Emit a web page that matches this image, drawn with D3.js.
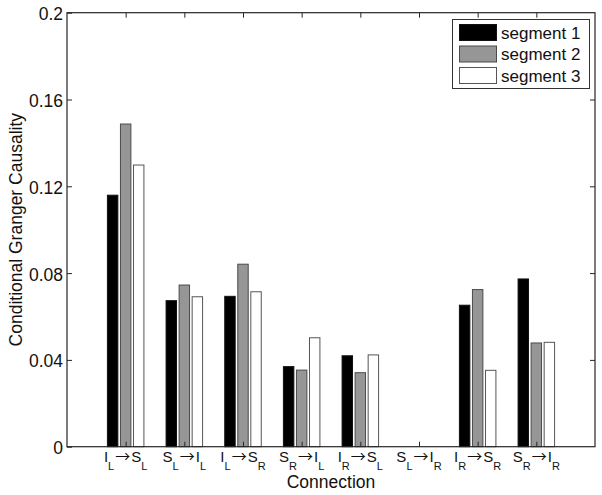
<!DOCTYPE html>
<html>
<head>
<meta charset="utf-8">
<script src="https://cdn.jsdelivr.net/npm/d3@7"></script>
<style>
  html, body { margin: 0; padding: 0; background: #fff; }
  svg { display: block; }
  text { fill: #111; }
</style>
</head>
<body>
<svg id="chart" width="602" height="495"></svg>
<script>
// ---- data ----
const catFrom    = ["I", "S", "I", "S", "I", "S", "I", "S"];
const catFromSub = ["L", "L", "L", "R", "R", "L", "R", "R"];
const catTo      = ["S", "I", "S", "I", "S", "I", "S", "I"];
const catToSub   = ["L", "L", "R", "L", "L", "R", "R", "R"];
const seriesNames = ["segment 1", "segment 2", "segment 3"];
const segment1 = [0.1159, 0.0673, 0.0693, 0.0369, 0.0419, 0, 0.0652, 0.0773];
const segment2 = [0.1487, 0.0745, 0.0841, 0.0353, 0.0341, 0, 0.0724, 0.0478];
const segment3 = [0.1298, 0.0691, 0.0714, 0.0502, 0.0423, 0, 0.0352, 0.0481];
const yTicks = [0, 0.04, 0.08, 0.12, 0.16, 0.2];
const yTickLabels = ["0", "0.04", "0.08", "0.12", "0.16", "0.2"];
const xLabel = "Connection";
const yLabel = "Conditional Granger Causality";

const series = [segment1, segment2, segment3];
const fills = ["#000000", "#969696", "#ffffff"];
const strokes = ["#111111", "#4a4a4a", "#555555"];
const FONT = '"Liberation Sans", Arial, sans-serif';

// ---- layout ----
const L = 67, R = 595, T = 12.7, B = 446.7;
const svg = d3.select("#chart");

const x = d3.scaleLinear().domain([0, catFrom.length + 1]).range([L, R]);
const y = d3.scaleLinear().domain([0, 0.2]).range([B, T]);
const offset = d3.scaleLinear().domain([0, 2]).range([-0.2222, 0.2222]);
const barW = 0.1778;

// bars
series.forEach((vals, j) => {
  svg.append("g").selectAll("rect")
    .data(vals)
    .join("rect")
    .attr("x", (d, i) => x(i + 1 + offset(j) - barW / 2))
    .attr("width", x(barW) - x(0))
    .attr("y", d => y(d))
    .attr("height", d => y(0) - y(d))
    .attr("fill", fills[j])
    .attr("stroke", strokes[j])
    .attr("stroke-width", 1)
    .attr("display", d => d > 0 ? null : "none");
});

const tickLen = 5;
const axisColor = "#262626";
const catIdx = d3.range(1, catFrom.length + 1);

// box
svg.append("rect")
  .attr("x", L).attr("y", T).attr("width", R - L).attr("height", B - T)
  .attr("fill", "none").attr("stroke", axisColor).attr("stroke-width", 1.2);

// left & right axes (inward ticks)
const yAxisL = d3.axisLeft(y).tickValues(yTicks).tickSize(-tickLen).tickPadding(4)
  .tickFormat((d, i) => yTickLabels[i]);
const gL = svg.append("g").attr("transform", `translate(${L},0)`).call(yAxisL);
gL.select(".domain").remove();
gL.selectAll("line").attr("stroke", axisColor);
gL.attr("font-family", FONT).attr("font-size", "17.5px");
gL.selectAll("text").attr("fill", "#111").attr("dy", "0.4em");

const yAxisR = d3.axisRight(y).tickValues(yTicks.slice(1, -1)).tickSize(-tickLen).tickFormat("");
const gR = svg.append("g").attr("transform", `translate(${R},0)`).call(yAxisR);
gR.select(".domain").remove();
gR.selectAll("line").attr("stroke", axisColor);

// top & bottom ticks
const xAxisT = d3.axisTop(x).tickValues(catIdx).tickSize(-tickLen).tickFormat("");
const gT = svg.append("g").attr("transform", `translate(0,${T})`).call(xAxisT);
gT.select(".domain").remove();
gT.selectAll("line").attr("stroke", axisColor);

const xAxisB = d3.axisBottom(x).tickValues(catIdx).tickSize(-tickLen).tickFormat("");
const gB = svg.append("g").attr("transform", `translate(0,${B})`).call(xAxisB);
gB.select(".domain").remove();
gB.selectAll("line").attr("stroke", axisColor);

// x tick labels with subscripts
const lbl = svg.append("g").selectAll("text")
  .data(catIdx)
  .join("text")
  .attr("x", d => x(d))
  .attr("y", 461.5)
  .attr("text-anchor", "middle")
  .attr("font-family", FONT)
  .attr("font-size", "15px");
lbl.each(function(d, i) {
  const t = d3.select(this);
  t.append("tspan").text(catFrom[i]);
  t.append("tspan").attr("font-size", "11px").attr("dy", 8.5).text(catFromSub[i]);
  t.append("tspan").attr("dy", -8.5).attr("dx", 1)
    .attr("font-family", '"Noto Sans CJK SC", "DejaVu Sans", sans-serif')
    .attr("font-size", "15px").text("\u2192");
  t.append("tspan").attr("dx", 1).text(catTo[i]);
  t.append("tspan").attr("font-size", "11px").attr("dy", 8.5).text(catToSub[i]);
});

// axis labels
svg.append("text")
  .attr("x", (L + R) / 2).attr("y", 488)
  .attr("text-anchor", "middle").attr("font-family", FONT).attr("font-size", "17.5px")
  .text(xLabel);
svg.append("text")
  .attr("transform", `translate(22,${(T + B) / 2}) rotate(-90)`)
  .attr("text-anchor", "middle").attr("font-family", FONT).attr("font-size", "17.5px")
  .text(yLabel);

// legend
const lg = svg.append("g");
lg.append("rect")
  .attr("x", 452.5).attr("y", 19.5).attr("width", 137).attr("height", 69)
  .attr("fill", "#fff").attr("stroke", "#333").attr("stroke-width", 1);
const rowY = d3.scaleLinear().domain([0, 2]).range([24.5, 67.5]);
seriesNames.forEach((name, j) => {
  lg.append("rect")
    .attr("x", 459.5).attr("y", rowY(j)).attr("width", 37).attr("height", 16)
    .attr("fill", fills[j]).attr("stroke", strokes[j]).attr("stroke-width", 1);
  lg.append("text")
    .attr("x", 501).attr("y", rowY(j) + 14)
    .attr("font-family", FONT).attr("font-size", "17px")
    .text(name);
});
</script>
</body>
</html>
